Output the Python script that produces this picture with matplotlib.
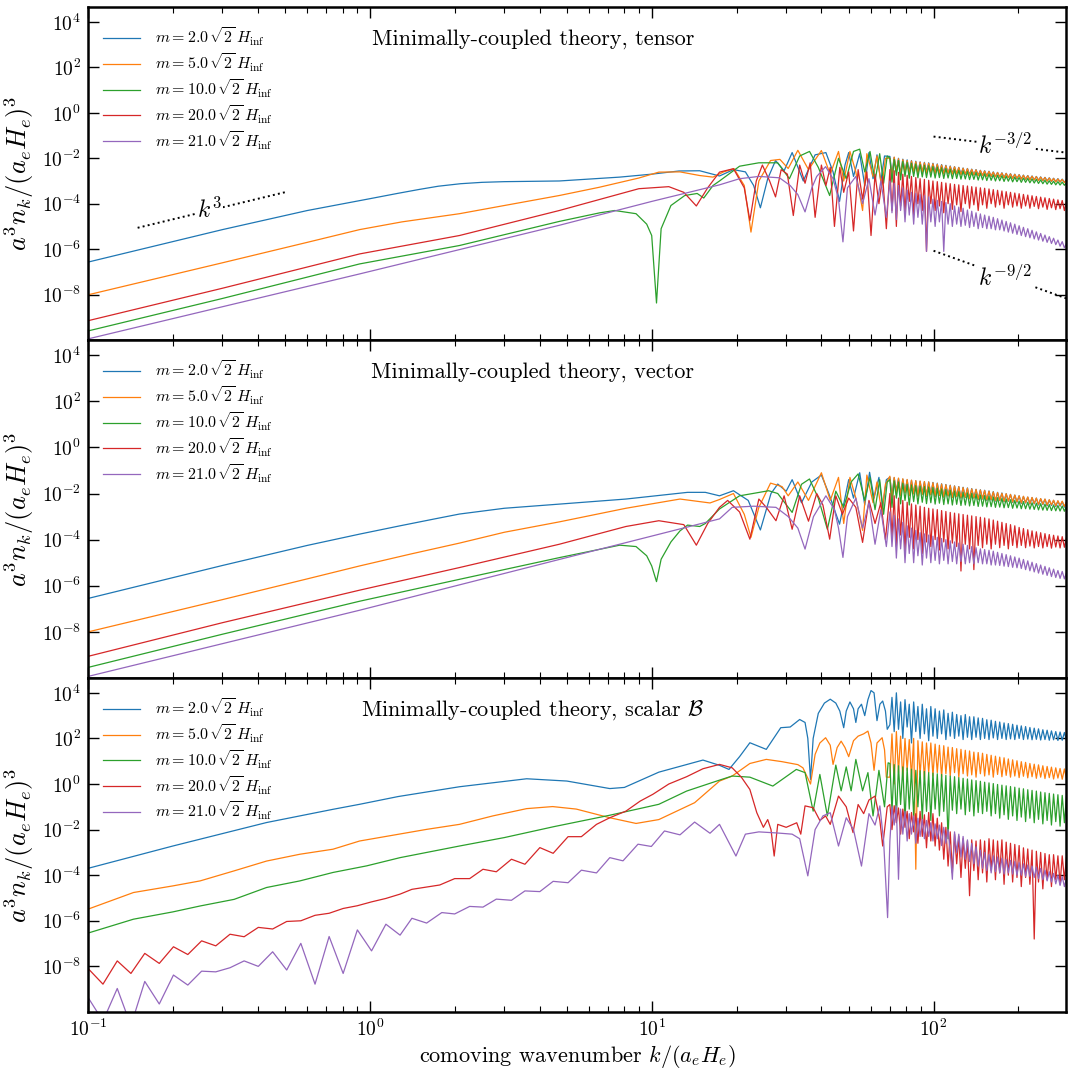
import numpy as np
import matplotlib.pyplot as plt
from matplotlib.ticker import LogLocator, NullLocator, NullFormatter

plt.rcParams['font.family'] = 'serif'
plt.rcParams['font.serif'] = ['cmr10', 'DejaVu Serif']
plt.rcParams['mathtext.fontset'] = 'cm'
plt.rcParams['axes.formatter.use_mathtext'] = True
plt.rcParams['axes.unicode_minus'] = False

colors = ['#1f77b4', '#ff7f0e', '#2ca02c', '#d62728', '#9467bd']
labels = [r'$m = 2.0\,\sqrt{2}\,H_{\rm inf}$', r'$m = 5.0\,\sqrt{2}\,H_{\rm inf}$',
          r'$m = 10.0\,\sqrt{2}\,H_{\rm inf}$', r'$m = 20.0\,\sqrt{2}\,H_{\rm inf}$',
          r'$m = 21.0\,\sqrt{2}\,H_{\rm inf}$']
titles = ['Minimally-coupled theory, tensor', 'Minimally-coupled theory, vector',
          r'Minimally-coupled theory, scalar $\mathcal{B}$']

# shared high-k sample points (dense oscillating tail), 84 points
k_hi = [70, 71.2, 72.5, 73.8, 75.1, 76.4, 77.8, 79.2, 80.6, 82,
        83.5, 85, 86.5, 88, 89.6, 91.2, 92.8, 94.4, 96.1, 97.8,
        99.5, 101.3, 103.1, 104.9, 106.8, 108.7, 110.6, 112.6, 114.6, 116.6,
        118.7, 120.8, 122.9, 125.1, 127.3, 129.6, 131.9, 134.2, 136.6, 139,
        141.5, 144, 146.6, 149.2, 151.8, 154.5, 157.3, 160.1, 162.9, 165.8,
        168.7, 171.7, 174.8, 177.9, 181, 184.2, 187.5, 190.8, 194.2, 197.7,
        201.2, 204.8, 208.4, 212.1, 215.9, 219.7, 223.6, 227.6, 231.6, 235.7,
        239.9, 244.2, 248.5, 252.9, 257.4, 262, 266.6, 271.4, 276.2, 281.1,
        286.1, 291.2, 296.3, 301.6]

# ---------------- tensor (log10 of a^3 n_k) ----------------
k_t_blue = [0.1, 0.3, 0.6, 1.0, 1.25, 1.5, 1.75, 2.1, 2.5, 3.0, 4.7, 7.7, 10.0, 12.5, 14.8, 17.4, 19.5, 21.5, 23.0,
            24.3, 25.8, 27.5, 29.5, 31.5, 34.5, 38.0, 41.5, 44.0, 46.4, 48.5, 50.0, 52.0, 54.7, 57.0, 59.0, 61.0,
            63.0, 65.0, 67.0]
lg_t_blue = [-6.57, -5.14, -4.3, -3.78, -3.55, -3.37, -3.23, -3.12, -3.06, -3.03, -3.0, -2.83, -2.7, -2.56, -2.55,
             -2.78, -2.5, -2.6, -3.2, -4.18, -2.9, -2.1, -2.55, -1.75, -3.0, -1.85, -1.75, -2.6, -3.9, -2.3, -1.75,
             -2.8, -1.8, -3.2, -1.75, -2.9, -1.85, -3.0, -1.9]
hi_t_blue = [-1.92, -2.7, -1.96, -2.55, -2.0, -2.68, -2.04, -2.6, -2.07, -2.58,
             -2.1, -2.66, -2.13, -2.6, -2.16, -2.62, -2.18, -2.59, -2.2, -2.64,
             -2.22, -2.62, -2.25, -2.66, -2.28, -2.64, -2.31, -2.68, -2.34, -2.66,
             -2.37, -2.7, -2.4, -2.69, -2.43, -2.72, -2.45, -2.71, -2.48, -2.74,
             -2.5, -2.75, -2.53, -2.77, -2.55, -2.78, -2.57, -2.8, -2.6, -2.81,
             -2.62, -2.83, -2.64, -2.85, -2.66, -2.86, -2.68, -2.88, -2.7, -2.9,
             -2.72, -2.91, -2.74, -2.93, -2.76, -2.94, -2.78, -2.96, -2.8, -2.97,
             -2.82, -2.99, -2.84, -3.0, -2.86, -3.02, -2.88, -3.03, -2.9, -3.05,
             -2.92, -3.06, -2.94, -3.08]

k_t_orange = [0.1, 0.3, 0.6, 0.92, 1.3, 2.08, 3.0, 4.7, 6.5, 9.0, 10.6, 12.6, 14.8, 16.5, 18.0, 19.6, 21.3, 22.5,
              24.0, 26.4, 28.5, 30.5, 33.0, 36.0, 40.0, 43.0, 46.0, 48.0, 50.5, 53.0, 56.0, 58.0, 61.0, 63.0, 65.5,
              67.5]
lg_t_orange = [-8.01, -6.6, -5.7, -5.14, -4.8, -4.44, -4.08, -3.64, -3.28, -2.87, -2.61, -2.6, -2.76, -2.83, -2.6,
               -2.46, -3.2, -5.25, -3.0, -2.1, -2.05, -2.45, -1.65, -2.5, -1.66, -2.7, -1.7, -3.0, -1.7, -2.6, -4.3,
               -1.8, -2.8, -1.9, -3.3, -2.0]
hi_t_orange = [-2.0, -2.85, -1.95, -2.6, -2.02, -2.75, -2.06, -2.62, -2.1, -2.7,
               -2.12, -2.6, -2.15, -2.68, -2.17, -2.6, -2.2, -2.66, -2.22, -2.62,
               -2.24, -2.68, -2.27, -2.64, -2.3, -2.7, -2.33, -2.66, -2.36, -2.7,
               -2.38, -2.68, -2.41, -2.73, -2.44, -2.7, -2.46, -2.75, -2.49, -2.73,
               -2.51, -2.77, -2.54, -2.76, -2.56, -2.8, -2.58, -2.79, -2.61, -2.82,
               -2.63, -2.82, -2.65, -2.86, -2.67, -2.85, -2.69, -2.89, -2.71, -2.88,
               -2.73, -2.92, -2.75, -2.92, -2.77, -2.95, -2.79, -2.95, -2.81, -2.98,
               -2.83, -2.98, -2.85, -3.01, -2.87, -3.01, -2.89, -3.04, -2.91, -3.04,
               -2.93, -3.07, -2.95, -3.07]

k_t_green = [0.1, 0.3, 0.92, 2.08, 4.7, 6.55, 7.4, 8.8, 9.6, 10.0, 10.4, 10.8, 11.7, 13.1, 14.5, 15.3, 16.5, 17.4,
             20.5, 24.0, 28.0, 30.8, 33.5, 36.3, 39.0, 42.8, 46.0, 49.0, 52.0, 54.7, 57.0, 59.5, 62.0, 64.4, 66.5, 68.5]
lg_t_green = [-9.6, -8.17, -6.65, -5.84, -4.78, -4.4, -4.3, -4.44, -4.9, -5.4, -8.37, -5.1, -4.08, -3.64, -3.55,
              -3.75, -3.2, -3.0, -2.35, -2.2, -2.2, -2.9, -1.9, -1.7, -2.4, -3.64, -2.0, -2.9, -1.7, -1.6,
              -2.6, -1.7, -3.0, -1.8, -3.1, -1.9]
hi_t_green = [-2.0, -3.05, -2.05, -2.75, -2.1, -2.95, -2.14, -2.8, -2.18, -2.88,
              -2.22, -2.8, -2.25, -2.86, -2.28, -2.82, -2.31, -2.85, -2.33, -2.83,
              -2.36, -2.87, -2.39, -2.85, -2.42, -2.89, -2.45, -2.87, -2.48, -2.9,
              -2.5, -2.89, -2.53, -2.92, -2.56, -2.91, -2.58, -2.94, -2.61, -2.93,
              -2.63, -2.96, -2.66, -2.95, -2.68, -2.98, -2.7, -2.97, -2.73, -3.0,
              -2.75, -2.99, -2.77, -3.02, -2.79, -3.01, -2.81, -3.04, -2.83, -3.03,
              -2.85, -3.06, -2.87, -3.06, -2.89, -3.08, -2.91, -3.09, -2.93, -3.11,
              -2.95, -3.12, -2.97, -3.14, -2.99, -3.15, -3.01, -3.17, -3.03, -3.18,
              -3.05, -3.19, -3.07, -3.21]

k_t_red = [0.1, 0.3, 0.92, 2.08, 4.7, 9.0, 11.5, 13.0, 14.4, 15.8, 17.4, 19.5, 21.3, 22.3, 23.5, 24.7, 26.2, 27.5,
           28.8, 30.3, 31.8, 33.5, 35.0, 36.5, 38.0, 40.0, 41.5, 43.0, 44.5, 46.5, 48.0, 50.0, 52.0, 54.0, 56.0,
           58.0, 60.0, 62.0, 64.0, 66.0, 68.0]
lg_t_red = [-9.15, -7.72, -6.21, -5.4, -4.3, -3.34, -3.25, -3.5, -4.1, -3.3, -2.61, -2.46, -3.3, -4.74, -3.0, -2.3,
            -3.0, -3.7, -2.5, -2.7, -4.52, -2.3, -3.1, -2.2, -4.6, -2.3, -3.2, -2.4, -5.0, -2.4, -3.5, -2.6, -5.2,
            -2.5, -3.8, -2.6, -5.4, -2.7, -4.0, -2.8, -5.1]
hi_t_red = [-2.5, -4.3, -2.55, -5.0, -2.62, -4.1, -2.7, -4.4, -2.75, -3.9,
            -2.8, -4.5, -2.85, -4.0, -2.9, -4.3, -2.93, -6.1, -2.97, -4.0,
            -3.0, -4.3, -3.03, -4.1, -3.06, -4.4, -3.09, -4.0, -3.12, -4.25,
            -3.15, -4.05, -3.17, -4.35, -3.2, -4.0, -3.22, -4.2, -3.25, -4.05,
            -3.27, -4.3, -3.3, -4.05, -3.32, -4.2, -3.35, -4.0, -3.38, -4.15,
            -3.41, -4.05, -3.44, -4.2, -3.47, -4.05, -3.5, -4.15, -3.53, -4.1,
            -3.56, -4.2, -3.59, -4.1, -3.62, -4.2, -3.65, -4.12, -3.68, -4.22,
            -3.71, -4.15, -3.74, -4.25, -3.77, -4.18, -3.8, -4.26, -3.83, -4.22,
            -3.86, -4.3, -3.9, -4.28]

k_t_purple = [0.1, 0.92, 4.7, 10.0, 17.4, 20.5, 24.0, 28.4, 31.0, 33.0, 35.0, 37.0, 38.5, 41.4, 44.0, 46.0, 47.7,
              49.5, 53.0, 56.0, 59.0, 62.0, 65.0, 68.0]
lg_t_purple = [-9.95, -7.09, -4.95, -3.9, -3.17, -2.9, -2.8, -2.86, -3.2, -3.6, -4.36, -3.3, -2.8, -2.37, -2.9,
               -3.8, -5.68, -3.3, -2.8, -4.0, -2.9, -4.5, -3.0, -4.6]
hi_t_purple = [-3.0, -4.4, -3.1, -4.7, -3.2, -4.3, -3.3, -4.8, -3.4, -4.5,
               -3.5, -4.9, -3.55, -4.6, -3.6, -4.9, -3.65, -6.1, -3.7, -4.8,
               -3.8, -5.0, -3.85, -4.8, -3.9, -6.1, -3.95, -4.9, -4.0, -5.0,
               -4.1, -4.9, -4.15, -5.0, -4.2, -4.95, -4.28, -5.05, -4.33, -5.0,
               -4.4, -5.1, -4.45, -5.05, -4.5, -5.1, -4.55, -5.1, -4.6, -5.15,
               -4.66, -5.15, -4.72, -5.2, -4.78, -5.25, -4.84, -5.3, -4.9, -5.35,
               -4.97, -5.4, -5.04, -5.45, -5.1, -5.5, -5.17, -5.55, -5.24, -5.6,
               -5.31, -5.65, -5.38, -5.7, -5.45, -5.75, -5.52, -5.8, -5.6, -5.87,
               -5.67, -5.94, -5.75, -6.02]

# ---------------- vector ----------------
k_v_blue = [0.1, 0.3, 0.6, 0.92, 1.28, 1.7, 2.08, 3.0, 4.7, 8.1, 13.4, 15.5, 17.4, 19.5, 22.0, 24.3, 26.5, 28.0,
            30.0, 31.5, 34.0, 37.0, 40.0, 42.5, 46.4, 50.0, 52.0, 54.7, 57.0, 59.3, 61.5, 64.0, 66.0, 68.0]
lg_v_blue = [-6.55, -5.12, -4.25, -3.76, -3.4, -3.1, -2.89, -2.64, -2.46, -2.24, -1.95, -1.95, -2.1, -1.88, -2.3,
             -3.58, -2.0, -1.59, -1.9, -1.4, -2.4, -1.5, -1.2, -2.0, -3.33, -1.4, -2.2, -1.1, -2.5, -1.08, -2.2,
             -1.3, -2.6, -1.4]
hi_v_blue = [-1.3, -2.1, -1.32, -1.9, -1.35, -2.05, -1.38, -1.95, -1.41, -2.08,
             -1.43, -2.0, -1.45, -2.1, -1.47, -2.02, -1.49, -2.12, -1.5, -2.05,
             -1.52, -2.14, -1.55, -2.08, -1.58, -2.16, -1.61, -2.1, -1.64, -2.18,
             -1.67, -2.14, -1.7, -2.2, -1.73, -2.17, -1.76, -2.23, -1.79, -2.2,
             -1.82, -2.26, -1.84, -2.24, -1.86, -2.3, -1.89, -2.28, -1.92, -2.33,
             -1.95, -2.31, -1.98, -2.36, -2.01, -2.34, -2.04, -2.39, -2.07, -2.38,
             -2.1, -2.43, -2.13, -2.41, -2.16, -2.46, -2.18, -2.45, -2.2, -2.5,
             -2.23, -2.48, -2.25, -2.53, -2.28, -2.52, -2.3, -2.56, -2.33, -2.55,
             -2.35, -2.59, -2.37, -2.6]

k_v_orange = [0.1, 0.3, 0.6, 0.92, 1.4, 2.08, 3.0, 4.7, 8.1, 12.6, 16.1, 17.4, 19.5, 21.3, 22.5, 24.0, 26.4, 29.0,
              30.5, 33.0, 36.0, 40.0, 43.0, 46.0, 48.0, 50.5, 53.0, 56.0, 58.0, 61.0, 63.0, 65.5, 67.5]
lg_v_orange = [-8.0, -6.6, -5.7, -5.14, -4.62, -4.15, -3.68, -3.23, -2.64, -2.24, -2.41, -2.26, -2.0, -2.9, -3.9,
               -2.6, -1.55, -1.7, -2.1, -1.5, -2.3, -1.1, -2.3, -1.3, -3.3, -1.3, -2.2, -3.6, -1.2, -2.4, -1.5,
               -2.8, -1.6]
hi_v_orange = [-1.25, -2.25, -1.3, -1.95, -1.33, -2.1, -1.36, -1.98, -1.39, -2.1,
               -1.42, -2.02, -1.44, -2.12, -1.46, -2.04, -1.48, -2.1, -1.5, -2.06,
               -1.53, -2.12, -1.56, -2.08, -1.59, -2.15, -1.62, -2.11, -1.65, -2.17,
               -1.68, -2.13, -1.71, -2.19, -1.74, -2.16, -1.77, -2.22, -1.8, -2.19,
               -1.82, -2.25, -1.85, -2.23, -1.87, -2.28, -1.9, -2.27, -1.93, -2.31,
               -1.96, -2.3, -1.99, -2.34, -2.01, -2.33, -2.04, -2.37, -2.07, -2.36,
               -2.1, -2.41, -2.12, -2.4, -2.15, -2.44, -2.17, -2.43, -2.2, -2.47,
               -2.22, -2.46, -2.24, -2.5, -2.27, -2.49, -2.29, -2.53, -2.31, -2.52,
               -2.33, -2.56, -2.35, -2.57]

k_v_green = [0.1, 0.3, 0.92, 2.08, 4.7, 7.7, 8.8, 9.6, 10.0, 10.4, 10.8, 11.7, 12.6, 13.4, 14.8, 15.5, 17.4, 20.5,
             26.0, 28.0, 31.5, 34.0, 36.3, 39.0, 42.0, 45.0, 48.0, 51.0, 54.0, 57.0, 59.5, 62.0, 64.4, 66.5, 68.5]
lg_v_green = [-9.54, -8.1, -6.67, -5.72, -4.78, -4.24, -4.3, -4.7, -5.14, -5.82, -4.85, -4.1, -3.62, -3.37, -3.43,
              -3.3, -2.67, -2.1, -1.88, -2.0, -2.82, -1.6, -1.37, -2.2, -3.55, -1.9, -2.6, -1.5, -1.15, -2.3,
              -1.3, -2.7, -1.4, -2.9, -1.5]
hi_v_green = [-1.4, -2.6, -1.45, -2.2, -1.5, -2.45, -1.55, -2.3, -1.6, -2.5,
              -1.63, -2.35, -1.66, -2.45, -1.68, -2.38, -1.7, -2.44, -1.72, -2.4,
              -1.74, -2.46, -1.77, -2.42, -1.8, -2.48, -1.83, -2.45, -1.86, -2.5,
              -1.89, -2.47, -1.92, -2.52, -1.95, -2.5, -1.97, -2.54, -2.0, -2.52,
              -2.03, -2.56, -2.06, -2.55, -2.09, -2.58, -2.12, -2.57, -2.15, -2.6,
              -2.18, -2.59, -2.21, -2.62, -2.24, -2.61, -2.27, -2.64, -2.3, -2.63,
              -2.33, -2.66, -2.35, -2.66, -2.38, -2.68, -2.4, -2.69, -2.42, -2.71,
              -2.44, -2.72, -2.46, -2.73, -2.48, -2.74, -2.5, -2.75, -2.52, -2.76,
              -2.54, -2.77, -2.55, -2.78]

k_v_red = [0.1, 0.3, 0.92, 2.08, 4.7, 8.1, 10.6, 13.0, 14.4, 15.8, 17.4, 18.6, 20.5, 22.3, 24.0, 25.5, 27.6, 29.5,
           31.5, 33.5, 36.0, 38.5, 40.5, 42.8, 45.0, 47.5, 50.0, 53.0, 56.0, 59.0, 62.0, 65.0, 67.5]
lg_v_red = [-9.06, -7.6, -6.19, -5.21, -4.2, -3.43, -3.18, -3.35, -4.24, -3.3, -2.6, -2.3, -2.8, -3.98, -2.24, -2.6,
            -3.18, -2.1, -3.55, -2.1, -3.2, -2.0, -2.5, -3.98, -2.1, -2.9, -2.2, -2.6, -4.12, -2.3, -3.3, -2.4, -4.0]
hi_v_red = [-2.0, -3.9, -2.1, -4.3, -2.2, -3.8, -2.3, -4.5, -2.38, -3.9,
            -2.45, -4.4, -2.5, -4.0, -2.55, -4.6, -2.6, -4.1, -2.64, -4.3,
            -2.67, -4.0, -2.7, -4.45, -2.74, -4.1, -2.78, -4.4, -2.82, -4.15,
            -2.85, -4.3, -2.88, -5.36, -2.91, -4.2, -2.94, -4.4, -2.97, -5.3,
            -3.0, -4.25, -3.03, -4.35, -3.06, -4.2, -3.1, -4.4, -3.15, -4.2,
            -3.2, -4.35, -3.25, -4.25, -3.3, -4.4, -3.35, -4.25, -3.4, -4.35,
            -3.47, -4.25, -3.52, -4.35, -3.57, -4.28, -3.62, -4.36, -3.66, -4.3,
            -3.7, -4.36, -3.74, -4.3, -3.78, -4.37, -3.81, -4.32, -3.84, -4.36,
            -3.87, -4.33, -3.9, -4.35]

k_v_purple = [0.1, 0.92, 2.08, 4.7, 8.1, 17.4, 19.3, 23.0, 27.6, 30.5, 33.0, 35.0, 37.5, 41.5, 44.5, 46.0, 47.7,
              49.5, 53.0, 56.0, 59.0, 62.0, 65.0, 68.0]
lg_v_purple = [-9.93, -7.06, -5.96, -4.86, -4.13, -3.1, -2.6, -2.55, -2.6, -3.0, -3.5, -4.41, -3.0, -2.1, -2.7,
               -3.5, -4.77, -3.0, -2.2, -3.5, -2.4, -4.2, -2.7, -4.3]
hi_v_purple = [-2.8, -4.3, -2.95, -4.8, -3.1, -4.4, -3.25, -5.0, -3.4, -4.6,
               -3.5, -5.0, -3.6, -4.7, -3.7, -5.1, -3.75, -4.8, -3.8, -5.0,
               -3.85, -4.9, -3.9, -5.05, -3.95, -4.9, -4.0, -5.05, -4.05, -4.95,
               -4.1, -5.05, -4.15, -4.95, -4.2, -5.05, -4.25, -5.0, -4.3, -5.05,
               -4.35, -5.0, -4.4, -5.05, -4.43, -5.05, -4.46, -5.1, -4.5, -5.1,
               -4.55, -5.12, -4.6, -5.15, -4.65, -5.17, -4.7, -5.2, -4.75, -5.22,
               -4.8, -5.25, -4.86, -5.3, -4.92, -5.35, -4.98, -5.4, -5.04, -5.45,
               -5.1, -5.5, -5.16, -5.55, -5.22, -5.6, -5.28, -5.64, -5.34, -5.68,
               -5.38, -5.7, -5.43, -5.72]

# ---------------- scalar B ----------------
k_s_blue = [0.1, 0.2, 0.43, 0.74, 0.92, 1.26, 2.08, 3.6, 5.0, 7.1, 8.0, 10.6, 15.2, 17.4, 18.8, 20.5, 22.3, 25.5,
            28.7, 31.0, 33.5, 35.0, 35.8, 36.6, 37.4, 39.0, 41.0, 43.0, 45.0, 46.5, 48.0, 49.0, 50.5, 52.0, 53.0,
            54.0, 55.5, 57.0, 58.5, 60.0, 61.5, 63.0, 64.5, 66.0, 67.5, 68.5]
lg_s_blue = [-3.7, -2.72, -1.69, -1.11, -0.89, -0.55, -0.12, 0.23, 0.13, -0.2, -0.15, 0.52, 1.05, 0.82, 0.64, 1.2,
             1.81, 1.52, 2.47, 2.5, 2.83, 2.7, 2.0, 0.2, 2.0, 3.1, 3.55, 3.72, 3.55, 3.2, 2.47, 3.2, 3.6, 3.3, 2.7,
             3.3, 3.5, 3.0, 3.7, 4.1, 4.0, 2.78, 3.5, 3.64, 3.2, 2.4]
hi_s_blue = [2.6, 3.8, 2.3, 4.0, 2.4, 3.6, 2.0, 3.7, 2.5, 3.5,
             1.8, 3.6, 2.3, 3.4, 2.0, 3.5, 2.2, 3.3, 1.9, 3.4,
             2.1, 3.3, 2.0, 3.2, 2.2, 3.25, 1.95, 3.1, 2.1, 3.15,
             2.0, 3.05, 2.1, 3.0, 1.95, 3.05, 2.05, 2.95, 1.95, 2.95,
             2.05, 2.9, 1.95, 2.88, 2.0, 2.82, 1.95, 2.8, 2.02, 2.75,
             1.95, 2.72, 2.0, 2.68, 1.95, 2.65, 1.98, 2.62, 1.95, 2.58,
             2.0, 2.55, 1.95, 2.52, 1.97, 2.48, 1.94, 2.45, 1.96, 2.42,
             1.93, 2.38, 1.95, 2.36, 1.92, 2.33, 1.94, 2.3, 1.91, 2.28,
             1.92, 2.26, 1.9, 2.24]

k_s_orange = [0.1, 0.145, 0.2, 0.25, 0.33, 0.43, 0.565, 0.74, 0.92, 1.59, 2.08, 2.73, 3.6, 4.45, 5.4, 7.1, 8.8,
              10.6, 14.2, 17.4, 19.3, 22.3, 25.5, 29.0, 33.0, 34.4, 36.6, 38.0, 39.5, 41.4, 43.0, 44.0, 45.5, 47.0,
              48.5, 50.0, 52.0, 54.0, 56.5, 58.5, 60.0, 61.5, 63.0, 65.7, 67.0, 68.0]
lg_s_orange = [-5.49, -4.76, -4.47, -4.25, -3.81, -3.38, -3.08, -2.86, -2.5, -1.99, -1.77, -1.4, -1.08, -0.99,
               -1.1, -1.48, -1.73, -1.56, -0.82, 0.13, 0.35, 0.9, 1.08, 0.98, 0.85, 0.71, 0.0, 1.3, 1.8, 2.03, 1.7,
               0.86, 1.6, 1.88, 1.6, 1.2, 1.9, 2.1, 2.2, 2.32, 1.8, 0.6, 1.8, 2.03, 1.5, 0.3]
hi_s_orange = [0.3, 2.2, 0.0, 2.3, 0.5, 2.1, 0.2, 2.0, 0.6, 1.95,
               0.3, 2.0, -3.74, 1.9, 0.4, 1.85, 0.2, 1.8, 0.5, 1.8,
               0.35, 1.75, 0.5, 1.7, 0.3, 1.68, 0.45, 1.62, 0.35, 1.6,
               0.5, 1.55, 0.3, 1.52, 0.45, 1.48, 0.35, 1.45, 0.4, 1.4,
               0.3, 1.38, 0.45, 1.35, 0.35, 1.3, 0.4, 1.26, 0.3, 1.22,
               0.42, 1.18, 0.32, 1.15, 0.38, 1.1, 0.3, 1.06, 0.35, 1.02,
               0.28, 0.98, 0.34, 0.95, 0.27, 0.9, 0.32, 0.87, 0.25, 0.84,
               0.3, 0.8, 0.24, 0.77, 0.28, 0.74, 0.22, 0.71, 0.26, 0.68,
               0.21, 0.66, 0.23, 0.64]

k_s_green = [0.1, 0.145, 0.2, 0.25, 0.33, 0.43, 0.565, 0.74, 0.975, 1.28, 2.08, 3.0, 4.5, 7.1, 10.6, 13.3, 17.4,
             19.3, 22.3, 26.9, 32.6, 35.0, 37.4, 39.5, 42.0, 45.0, 47.0, 49.0, 51.0, 53.0, 56.0, 58.5, 61.0, 64.0,
             67.0, 69.0]
lg_s_green = [-6.54, -5.93, -5.61, -5.35, -5.06, -4.54, -4.25, -3.88, -3.59, -3.23, -2.72, -2.35, -1.87, -1.37,
              -0.89, -0.31, 0.17, 0.35, 0.3, -0.09, 0.64, 0.5, -1.19, 0.42, -1.4, 0.83, -0.3, 0.75, -0.3, 1.08,
              -0.3, 0.5, -1.4, 0.6, -1.0, 0.93]
hi_s_green = [0.9, -1.2, 0.85, -1.5, 0.8, -0.9, 0.75, -1.6, 0.7, -1.1,
              0.65, -1.4, 0.6, -1.0, 0.58, -1.55, 0.55, -1.2, 0.5, -1.6,
              0.48, -1.1, 0.45, -1.4, 0.42, -1.2, 0.38, -2.4, 0.35, -1.15,
              0.32, -1.3, 0.28, -1.1, 0.25, -1.35, 0.22, -1.2, 0.18, -1.4,
              0.15, -1.25, 0.12, -1.3, 0.08, -1.2, 0.05, -1.4, 0.02, -1.3,
              -0.02, -1.5, -0.05, -1.35, -0.08, -1.55, -0.11, -1.4, -0.14, -1.6,
              -0.18, -1.45, -0.21, -1.65, -0.25, -1.5, -0.28, -1.7, -0.31, -1.55,
              -0.35, -1.75, -0.38, -1.6, -0.41, -1.8, -0.44, -1.65, -0.47, -1.85,
              -0.5, -1.7, -0.53, -1.85]

# low-k sample grid where the scalar red / purple spectra zig-zag
k_s_zig = [0.1, 0.113, 0.127, 0.142, 0.159, 0.179, 0.201, 0.226, 0.253, 0.284, 0.319, 0.358, 0.402, 0.452,
           0.507, 0.569, 0.639, 0.717, 0.804, 0.903, 1.014, 1.14, 1.28]

k_s_red = k_s_zig + [1.41, 1.77, 2.0, 2.26, 2.52, 2.81, 3.18, 3.55, 4.01, 4.47, 5.05, 5.63, 6.37, 7.1, 8.1, 9.1,
                     10.1, 11.5, 13.3, 15.2, 17.4, 19.3, 20.8, 22.3, 23.6, 24.9, 25.8, 26.5, 27.2, 28.0, 30.0,
                     32.7, 33.8, 35.0, 37.4, 39.5, 41.4, 43.0, 46.0, 49.0, 51.8, 54.0, 56.5, 59.0, 62.0, 64.5,
                     66.0, 68.5]
lg_s_red = [-8.09, -8.78, -7.76, -8.31, -7.43, -7.87, -7.14, -7.48, -6.88, -7.1, -6.59, -6.7, -6.29, -6.36, -6.03,
            -6.0, -5.76, -5.67, -5.46, -5.34, -5.17, -5.02, -4.83,
            -4.62, -4.43, -4.15, -4.15, -3.74, -3.85, -3.3, -3.52, -2.79, -3.04, -2.31, -2.31, -1.77, -1.48, -1.19,
            -0.75, -0.45, 0.0, 0.32, 0.67, 0.86,
            0.71, 0.3, -0.24, -1.26, -1.9, -1.56, -2.0, -3.16, -1.77, -1.9, -1.7, -2.2, -0.96, -1.04, -1.6, -1.4,
            -1.77, -0.53, -1.0, -2.13, -0.9, -1.3, -0.7, -0.53, -1.6, -2.72, -1.0]
hi_s_red = [-0.9, -2.0, -0.95, -1.7, -1.05, -2.2, -1.1, -1.9, -1.2, -2.4,
            -1.25, -2.1, -1.3, -2.6, -1.2, -2.3, -1.35, -2.8, -1.25, -2.5,
            -1.3, -2.72, -1.5, -2.9, -1.7, -3.3, -1.9, -3.6, -2.1, -3.9,
            -2.2, -3.5, -2.3, -4.1, -2.4, -3.7, -2.5, -4.9, -2.45, -3.8,
            -2.5, -4.2, -2.45, -3.9, -2.5, -4.3, -2.4, -3.8, -2.45, -4.2,
            -2.5, -3.9, -2.45, -4.4, -2.55, -4.0, -2.6, -4.3, -2.65, -4.1,
            -2.7, -4.5, -2.8, -4.1, -2.85, -4.4, -2.9, -6.8, -2.95, -4.3,
            -3.0, -4.6, -3.05, -4.2, -3.1, -4.5, -3.1, -4.2, -3.15, -4.4,
            -3.15, -4.2, -3.2, -4.3]

k_s_purple = k_s_zig + [1.41, 1.59, 1.80, 2.0, 2.26, 2.52, 2.81, 3.18, 3.55, 4.01, 4.47, 5.05, 5.63, 6.37, 7.1,
                        7.91, 8.94, 9.97, 11.1, 12.6, 14.2, 16.1, 17.4, 19.9, 21.5, 24.0, 28.0, 31.5, 33.5, 35.8,
                        38.0, 40.5, 43.0, 46.0, 49.0, 52.0, 55.5, 59.0, 62.0, 64.5, 66.5, 68.7]
lg_s_purple = [-9.36, -10.4, -8.97, -10.6, -8.66, -9.65, -8.38, -8.82, -8.21, -8.24, -8.06, -7.76, -8.0, -7.36,
               -8.16, -6.99, -8.78, -6.69, -8.31, -6.4, -7.32, -6.15, -6.63,
               -5.89, -6.1, -5.64, -5.7, -5.37, -5.4, -5.05, -5.1, -4.69, -4.72, -4.27, -4.33, -3.78, -3.9, -3.23,
               -3.37, -2.64, -2.74, -2.06, -2.23, -1.67, -2.16, -1.77,
               -3.16, -2.2, -2.1, -2.15, -2.2, -2.4, -4.03, -2.0, -1.4, -1.26, -2.72, -1.48, -2.0, -3.6, -1.3, -1.8,
               -0.96, -2.5, -5.86]
hi_s_purple = [-2.5, -1.0, -1.8, -0.96, -4.18, -1.1, -2.2, -1.2, -2.5, -1.3,
               -2.2, -1.4, -2.6, -1.5, -2.3, -1.55, -2.4, -1.6, -2.3, -1.7,
               -2.5, -1.75, -2.4, -1.8, -2.7, -1.9, -2.6, -2.0, -3.0, -4.18,
               -2.1, -3.0, -2.2, -3.2, -2.3, -3.3, -2.45, -3.4, -2.6, -3.5,
               -2.75, -3.6, -2.9, -3.7, -3.0, -3.8, -3.1, -3.9, -3.15, -3.85,
               -3.2, -3.9, -3.25, -3.95, -3.3, -3.9, -3.35, -3.95, -3.4, -4.0,
               -3.45, -4.0, -3.5, -4.05, -3.55, -4.05, -3.6, -4.1, -3.65, -4.15,
               -3.7, -4.2, -3.78, -4.25, -3.85, -4.3, -3.92, -4.38, -4.0, -4.45,
               -4.06, -4.5, -4.12, -4.55]

panels = [
    [(k_t_blue, lg_t_blue, hi_t_blue), (k_t_orange, lg_t_orange, hi_t_orange), (k_t_green, lg_t_green, hi_t_green),
     (k_t_red, lg_t_red, hi_t_red), (k_t_purple, lg_t_purple, hi_t_purple)],
    [(k_v_blue, lg_v_blue, hi_v_blue), (k_v_orange, lg_v_orange, hi_v_orange), (k_v_green, lg_v_green, hi_v_green),
     (k_v_red, lg_v_red, hi_v_red), (k_v_purple, lg_v_purple, hi_v_purple)],
    [(k_s_blue, lg_s_blue, hi_s_blue), (k_s_orange, lg_s_orange, hi_s_orange), (k_s_green, lg_s_green, hi_s_green),
     (k_s_red, lg_s_red, hi_s_red), (k_s_purple, lg_s_purple, hi_s_purple)],
]

# power-law guide lines (tensor panel)
guide_k3_k = [0.15, 0.5]
guide_k3_y = [8.7e-6, 3.2e-4]
guide_k32_k = [100, 300]
guide_k32_y = [9.0e-2, 1.73e-2]
guide_k92_k = [100, 300]
guide_k92_y = [8.5e-7, 6.4e-9]

fig = plt.figure(figsize=(10.68, 10.72), dpi=100)
boxes = [[0.0824, 0.6828, 0.9157, 0.3106],
         [0.0824, 0.3675, 0.9157, 0.3153],
         [0.0824, 0.0560, 0.9157, 0.3116]]

for i, box in enumerate(boxes):
    ax = fig.add_axes(box)
    for j, (kk, lg, hi) in enumerate(panels[i]):
        k_all = np.array(kk + k_hi, dtype=float)
        y_all = 10.0 ** np.array(lg + hi, dtype=float)
        ax.plot(k_all, y_all, color=colors[j], lw=0.9, label=labels[j])
    ax.set_xscale('log')
    ax.set_yscale('log')
    ax.set_xlim(0.1, 295)
    ax.set_ylim(1e-10, 4.5e4)
    ax.set_yticks([1e-8, 1e-6, 1e-4, 1e-2, 1e0, 1e2, 1e4])
    ax.yaxis.set_minor_locator(NullLocator())
    ax.xaxis.set_minor_locator(LogLocator(base=10, subs=np.arange(2, 10), numticks=20))
    ax.xaxis.set_minor_formatter(NullFormatter())
    ax.tick_params(which='both', direction='in', top=True, right=True, labelsize=14, pad=5)
    ax.tick_params(which='major', length=8, width=1)
    ax.tick_params(which='minor', length=4, width=0.8)
    for s in ax.spines.values():
        s.set_linewidth(1.8)
    ax.set_ylabel(r'$a^3 n_k/(a_e H_e)^3$', fontsize=19, labelpad=4)
    ax.text(0.455, 0.905, titles[i], transform=ax.transAxes, ha='center', va='center', fontsize=16)
    ax.legend(loc='upper left', frameon=False, fontsize=11.5, handlelength=2.3, handletextpad=0.9,
              labelspacing=0.2, borderaxespad=0.75, bbox_to_anchor=(-0.003, 1.0))
    if i < 2:
        ax.set_xticklabels([])
    else:
        ax.set_xlabel(r'comoving wavenumber $k/(a_e H_e)$', fontsize=16, labelpad=2)
    if i == 0:
        ax.plot(guide_k3_k, guide_k3_y, ls=':', color='k', lw=1.4)
        ax.plot(guide_k32_k, guide_k32_y, ls=':', color='k', lw=1.4)
        ax.plot(guide_k92_k, guide_k92_y, ls=':', color='k', lw=1.4)
        bb = dict(facecolor='white', edgecolor='none', pad=1)
        ax.text(0.27, 5.0e-5, r'$k^3$', fontsize=17, ha='center', va='center', bbox=bb)
        ax.text(180, 3.5e-2, r'$k^{-3/2}$', fontsize=17, ha='center', va='center', bbox=bb)
        ax.text(180, 5.5e-8, r'$k^{-9/2}$', fontsize=17, ha='center', va='center', bbox=bb)

fig.savefig('out.png', dpi=100)
